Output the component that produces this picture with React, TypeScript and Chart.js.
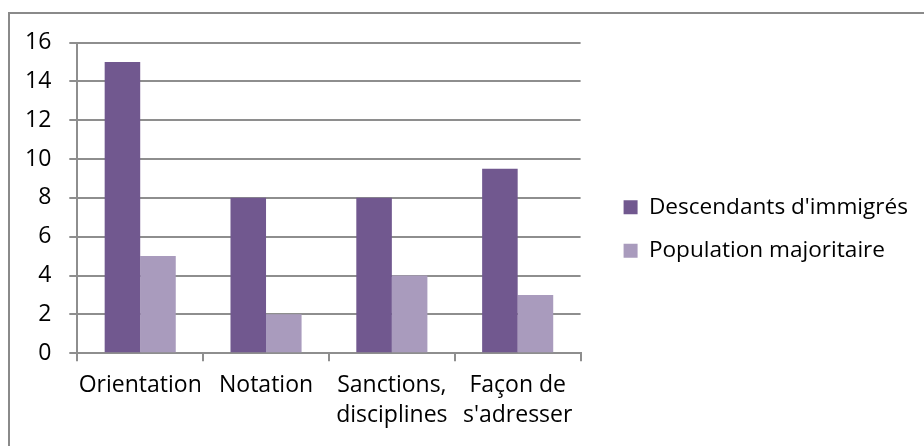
import { useEffect, useRef } from 'react';
import { Chart, registerables } from 'chart.js';
Chart.register(...registerables);

const categories: (string | string[])[] = ['Orientation', 'Notation', ['Sanctions,', 'disciplines'], ['Façon de', "s'adresser"]];
const seriesNames = ["Descendants d'immigrés", 'Population majoritaire'];
const descendants = [15, 8, 8, 9.5];
const majoritaire = [5, 2, 4, 3];
const yMin = 0;
const yMax = 16;
const yStep = 2;

const FONT = "'Open Sans', 'Noto Sans', sans-serif";
const GRID = '#8e8e8e';

export default function App() {
  const ref = useRef<HTMLCanvasElement | null>(null);
  useEffect(() => {
    if (!ref.current) return;
    const chart = new Chart(ref.current, {
      type: 'bar',
      data: {
        labels: categories as any,
        datasets: [
          { label: seriesNames[0], data: descendants, backgroundColor: '#71588F', borderWidth: 0 },
          { label: seriesNames[1], data: majoritaire, backgroundColor: '#A99BBD', borderWidth: 0 },
        ],
      },
      options: {
        responsive: false,
        animation: false,
        events: [],
        layout: { padding: { left: 7, right: 6, top: 19, bottom: 7 } },
        datasets: { bar: { categoryPercentage: 0.565, barPercentage: 1.0 } },
        scales: {
          x: {
            offset: true,
            grid: { display: true, drawOnChartArea: false, drawTicks: true, tickLength: 8, offset: true, color: GRID, lineWidth: 2 },
            border: { display: true, color: GRID, width: 2 },
            ticks: { color: '#000', padding: 9, maxRotation: 0, autoSkip: false, font: { family: FONT, size: 23, lineHeight: 1.3 } },
          },
          y: {
            min: yMin,
            max: yMax,
            ticks: { stepSize: yStep, color: '#000', padding: 18, font: { family: FONT, size: 23, lineHeight: 1.2 } },
            grid: { color: GRID, lineWidth: 2, tickLength: 8, drawTicks: true },
            border: { display: true, color: GRID, width: 2 },
          },
          gap: {
            position: 'right',
            display: true,
            grid: { display: false },
            ticks: { display: false },
            border: { display: false },
            afterFit: (s: any) => { s.width = 22; },
          } as any,
        },
        plugins: {
          title: { display: true, text: '', padding: { top: 0, bottom: 0 }, font: { size: 23.5, lineHeight: 1 } },
          tooltip: { enabled: false },
          legend: {
            position: 'right',
            align: 'center',
            maxWidth: 400,
            labels: { boxWidth: 14, boxHeight: 14, padding: 21, color: '#000', font: { family: FONT, size: 22.6 } },
          },
        },
      },
    });
    return () => chart.destroy();
  }, []);
  return (
    <div style={{ position: 'fixed', left: 0, top: 0, width: 924, height: 446, background: '#fff', overflow: 'hidden' }}>
      <canvas ref={ref} width={924} height={446} style={{ position: 'absolute', left: 0, top: 0, width: 924, height: 446 }} />
      <div style={{ position: 'absolute', left: 8, top: 12, right: -10, bottom: -10, borderTop: '2px solid #8a8a8a', borderLeft: '2px solid #8a8a8a', pointerEvents: 'none' }} />
    </div>
  );
}
